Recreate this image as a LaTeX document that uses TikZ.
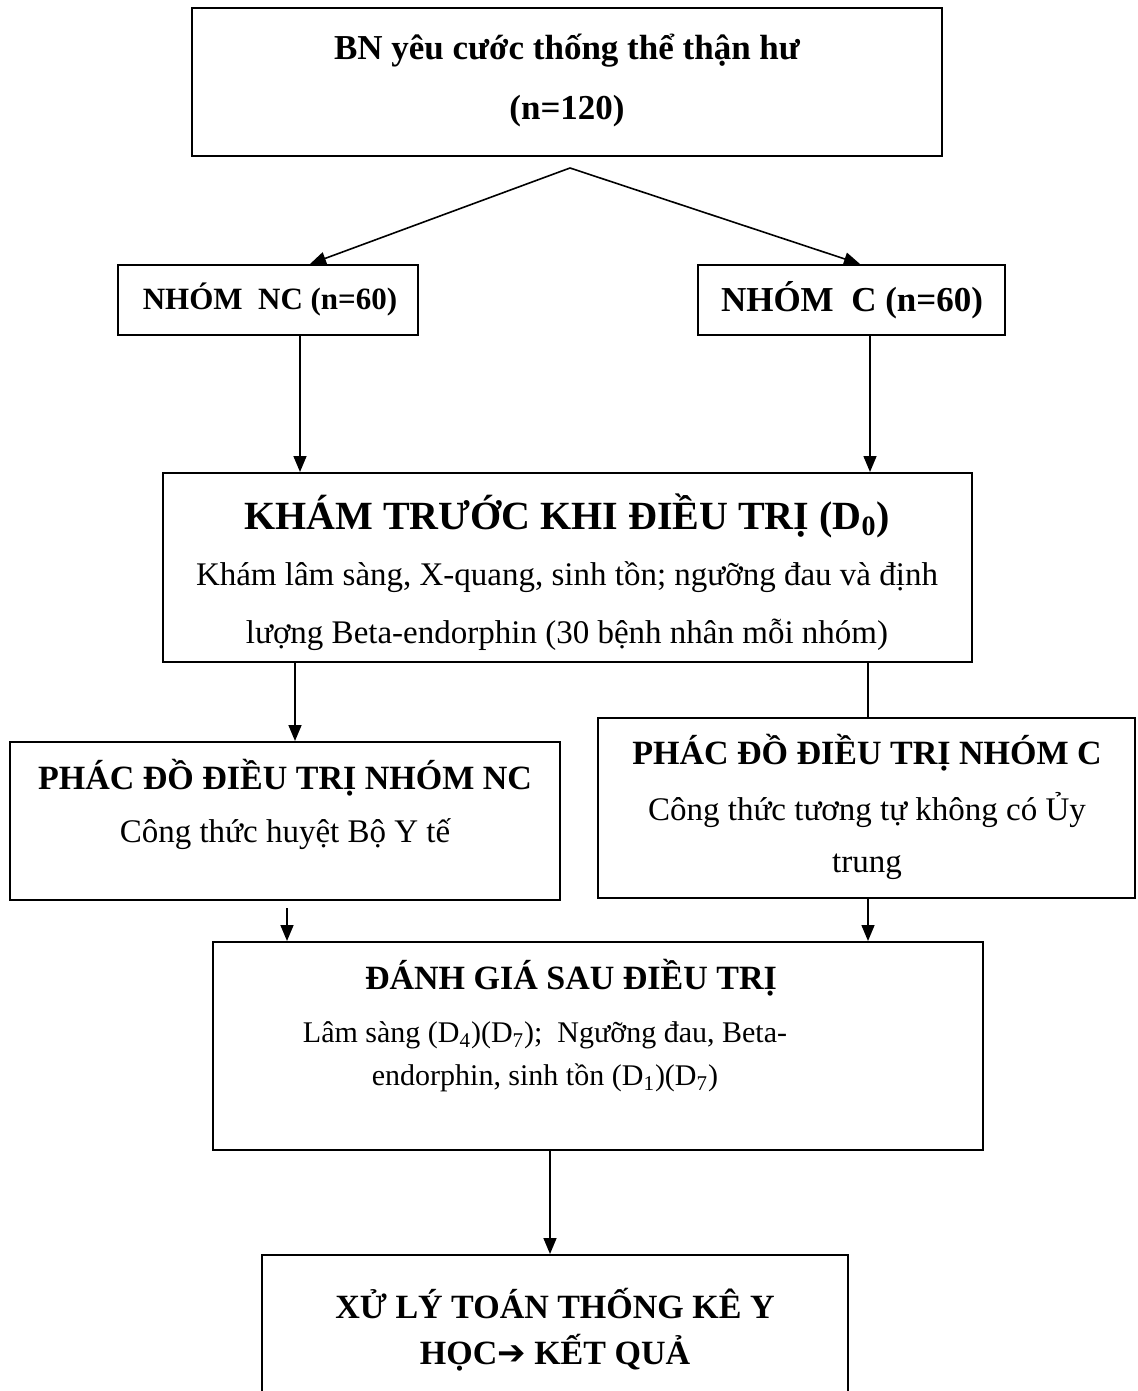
\documentclass[tikz,border=0pt]{standalone}
\usepackage{fontspec}
\setmainfont{Liberation Serif}
\newfontfamily\arrowfont{DejaVu Sans}
\usetikzlibrary{fit,arrows.meta}

\begin{document}
\begin{tikzpicture}[x=0.5pt,y=-0.5pt,
    box/.style={draw, line width=1pt, inner sep=0pt},
    head/.style={font=\fontsize{17}{20}\selectfont\bfseries, align=center, inner sep=0pt},
    txt/.style={font=\fontsize{16.5}{#1}\selectfont, align=center, inner sep=0pt},
    arr/.style={-{Triangle[length=8pt,width=6.5pt]}, line width=0.8pt},
    link/.style={line width=0.8pt}]

    % page frame
    \useasboundingbox (0,0) rectangle (1137,1391);

    % Draw the boxes
    \node[box, fit={(192,8) (942,156)}] (top) {};
    \node[box, fit={(118,265) (418,335)}] (nc) {};
    \node[box, fit={(698,265) (1005,335)}] (c) {};
    \node[box, fit={(163,473) (972,662)}] (d0) {};
    \node[box, fit={(10,742) (560,900)}] (nct) {};
    \node[box, fit={(598,718) (1135,898)}] (ct) {};
    \node[box, fit={(213,942) (983,1150)}] (dg) {};
    \node[box, fit={(262,1255) (848,1430)}] (res) {};

    % Texts inside the boxes
    \node[head, font=\fontsize{17.5}{30}\selectfont\bfseries] (topText) at (567,80)
        {BN yêu cước thống thể thận hư\\(n=120)};
    \node[head, font=\fontsize{15.5}{18}\selectfont\bfseries] (ncText) at (270,300) {NHÓM~~NC (n=60)};
    \node[head, font=\fontsize{17.5}{20}\selectfont\bfseries] (cText) at (852,300) {NHÓM~~C (n=60)};

    \node[head, font=\fontsize{20}{24}\selectfont\bfseries] (d0Title) at (567,516)
        {KHÁM TRƯỚC KHI ĐIỀU TRỊ (D\textsubscript{0})};
    \node[txt=29pt] (d0Body) at (567,606)
        {Khám lâm sàng, X-quang, sinh tồn; ngưỡng đau và định\\
         lượng Beta-endorphin (30 bệnh nhân mỗi nhóm)};

    \node[head] (nctTitle) at (285,778) {PHÁC ĐỒ ĐIỀU TRỊ NHÓM NC};
    \node[txt=20pt] (nctBody) at (285,834) {Công thức huyệt Bộ Y tế};

    \node[head] (ctTitle) at (867,753) {PHÁC ĐỒ ĐIỀU TRỊ NHÓM C};
    \node[txt=26pt] (ctBody) at (867,836) {Công thức tương tự không có Ủy\\trung};

    \node[head] (dgTitle) at (571,978) {ĐÁNH GIÁ SAU ĐIỀU TRỊ};
    \node[txt=21.5pt, font=\fontsize{15}{21.5}\selectfont] (dgBody) at (545,1057)
        {Lâm sàng (D\textsubscript{4})(D\textsubscript{7});~~Ngưỡng đau, Beta-\\
         endorphin, sinh tồn (D\textsubscript{1})(D\textsubscript{7})};

    \node[head, font=\fontsize{17}{23}\selectfont\bfseries] (resText) at (555,1330)
        {XỬ LÝ TOÁN THỐNG KÊ Y\\HỌC{\arrowfont ➔} KẾT QUẢ};

    % Split into the two groups
    \coordinate (split) at (570,168);
    \draw[arr] (split) -- ([xshift=21pt]nc.north);
    \draw[arr] (split) -- ([xshift=4.25pt]c.north);

    % Down to the first examination
    \draw[arr] ([xshift=16pt]nc.south) -- ([xshift=16pt]nc.south |- d0.north);
    \draw[arr] ([xshift=9.25pt]c.south) -- ([xshift=9.25pt]c.south |- d0.north);

    % Down to the two treatments
    \draw[arr] ([xshift=-136.25pt]d0.south) -- ([xshift=-136.25pt]d0.south |- nct.north);
    \draw[link] ([xshift=150.25pt]d0.south) -- ([xshift=150.25pt]d0.south |- ct.north);

    % Down to the evaluation
    \draw[arr] ([xshift=1pt,yshift=-3.5pt]nct.south) -- ([xshift=1pt]nct.south |- dg.north);
    \draw[arr] ([xshift=0.75pt]ct.south) -- ([xshift=0.75pt]ct.south |- dg.north);

    % Down to the result
    \draw[arr] ([xshift=-24pt]dg.south) -- ([xshift=-24pt]dg.south |- res.north);
\end{tikzpicture}
\end{document}
